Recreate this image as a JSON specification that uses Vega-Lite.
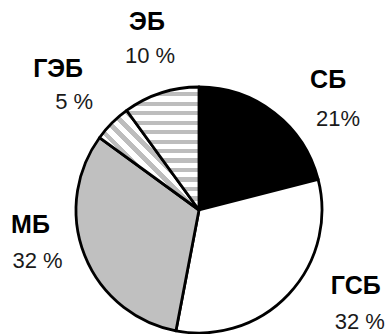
{
  "$schema": "https://vega.github.io/schema/vega-lite/v6.json",
  "width": 248,
  "height": 246,
  "autosize": {"type": "none"},
  "padding": {"left": 75, "top": 87, "right": 63, "bottom": 1},
  "background": "white",
  "config": {"view": {"stroke": null}, "font": "Liberation Sans"},
  "data": {
    "values": [
      {"i": 1, "k": "СБ", "v": 21, "lab": "21%"},
      {"i": 2, "k": "ГСБ", "v": 32, "lab": "32 %"},
      {"i": 3, "k": "МБ", "v": 32, "lab": "32 %"},
      {"i": 4, "k": "ГЭБ", "v": 5, "lab": "5 %"},
      {"i": 5, "k": "ЭБ", "v": 10, "lab": "10 %"}
    ]
  },
  "encoding": {
    "theta": {"field": "v", "type": "quantitative", "stack": true},
    "order": {"field": "i", "type": "quantitative"}
  },
  "layer": [
    {
      "mark": {"type": "arc", "stroke": "black", "strokeWidth": 2.8, "strokeJoin": "round"},
      "encoding": {
        "fill": {
          "condition": [
            {"test": "datum.k === 'ЭБ'", "value": {"gradient": "linear", "x1": 0, "y1": 0, "x2": 0, "y2": 1, "stops": [
              {"offset": 0, "color": "white"}, {"offset": 0.0427, "color": "white"}, {"offset": 0.0427, "color": "#bdbdbd"}, {"offset": 0.0769, "color": "#bdbdbd"},
              {"offset": 0.0769, "color": "white"}, {"offset": 0.1196, "color": "white"}, {"offset": 0.1196, "color": "#bdbdbd"}, {"offset": 0.1538, "color": "#bdbdbd"},
              {"offset": 0.1538, "color": "white"}, {"offset": 0.1966, "color": "white"}, {"offset": 0.1966, "color": "#bdbdbd"}, {"offset": 0.2308, "color": "#bdbdbd"},
              {"offset": 0.2308, "color": "white"}, {"offset": 0.2735, "color": "white"}, {"offset": 0.2735, "color": "#bdbdbd"}, {"offset": 0.3077, "color": "#bdbdbd"},
              {"offset": 0.3077, "color": "white"}, {"offset": 0.3504, "color": "white"}, {"offset": 0.3504, "color": "#bdbdbd"}, {"offset": 0.3846, "color": "#bdbdbd"},
              {"offset": 0.3846, "color": "white"}, {"offset": 0.4273, "color": "white"}, {"offset": 0.4273, "color": "#bdbdbd"}, {"offset": 0.4615, "color": "#bdbdbd"},
              {"offset": 0.4615, "color": "white"}, {"offset": 0.5043, "color": "white"}, {"offset": 0.5043, "color": "#bdbdbd"}, {"offset": 0.5385, "color": "#bdbdbd"},
              {"offset": 0.5385, "color": "white"}, {"offset": 0.5812, "color": "white"}, {"offset": 0.5812, "color": "#bdbdbd"}, {"offset": 0.6154, "color": "#bdbdbd"},
              {"offset": 0.6154, "color": "white"}, {"offset": 0.6581, "color": "white"}, {"offset": 0.6581, "color": "#bdbdbd"}, {"offset": 0.6923, "color": "#bdbdbd"},
              {"offset": 0.6923, "color": "white"}, {"offset": 0.7350, "color": "white"}, {"offset": 0.7350, "color": "#bdbdbd"}, {"offset": 0.7692, "color": "#bdbdbd"},
              {"offset": 0.7692, "color": "white"}, {"offset": 0.8119, "color": "white"}, {"offset": 0.8119, "color": "#bdbdbd"}, {"offset": 0.8462, "color": "#bdbdbd"},
              {"offset": 0.8462, "color": "white"}, {"offset": 0.8889, "color": "white"}, {"offset": 0.8889, "color": "#bdbdbd"}, {"offset": 0.9231, "color": "#bdbdbd"},
              {"offset": 0.9231, "color": "white"}, {"offset": 0.9658, "color": "white"}, {"offset": 0.9658, "color": "#bdbdbd"}, {"offset": 1, "color": "#bdbdbd"}
            ]}},
            {"test": "datum.k === 'ГЭБ'", "value": {"gradient": "linear", "x1": 0, "y1": 1, "x2": 1, "y2": 0, "stops": [
              {"offset": 0, "color": "white"}, {"offset": 0.0393, "color": "white"}, {"offset": 0.0393, "color": "#bdbdbd"}, {"offset": 0.0714, "color": "#bdbdbd"},
              {"offset": 0.0714, "color": "white"}, {"offset": 0.1107, "color": "white"}, {"offset": 0.1107, "color": "#bdbdbd"}, {"offset": 0.1429, "color": "#bdbdbd"},
              {"offset": 0.1429, "color": "white"}, {"offset": 0.1822, "color": "white"}, {"offset": 0.1822, "color": "#bdbdbd"}, {"offset": 0.2143, "color": "#bdbdbd"},
              {"offset": 0.2143, "color": "white"}, {"offset": 0.2536, "color": "white"}, {"offset": 0.2536, "color": "#bdbdbd"}, {"offset": 0.2857, "color": "#bdbdbd"},
              {"offset": 0.2857, "color": "white"}, {"offset": 0.3250, "color": "white"}, {"offset": 0.3250, "color": "#bdbdbd"}, {"offset": 0.3571, "color": "#bdbdbd"},
              {"offset": 0.3571, "color": "white"}, {"offset": 0.3964, "color": "white"}, {"offset": 0.3964, "color": "#bdbdbd"}, {"offset": 0.4286, "color": "#bdbdbd"},
              {"offset": 0.4286, "color": "white"}, {"offset": 0.4679, "color": "white"}, {"offset": 0.4679, "color": "#bdbdbd"}, {"offset": 0.5, "color": "#bdbdbd"},
              {"offset": 0.5, "color": "white"}, {"offset": 0.5393, "color": "white"}, {"offset": 0.5393, "color": "#bdbdbd"}, {"offset": 0.5714, "color": "#bdbdbd"},
              {"offset": 0.5714, "color": "white"}, {"offset": 0.6107, "color": "white"}, {"offset": 0.6107, "color": "#bdbdbd"}, {"offset": 0.6429, "color": "#bdbdbd"},
              {"offset": 0.6429, "color": "white"}, {"offset": 0.6822, "color": "white"}, {"offset": 0.6822, "color": "#bdbdbd"}, {"offset": 0.7143, "color": "#bdbdbd"},
              {"offset": 0.7143, "color": "white"}, {"offset": 0.7536, "color": "white"}, {"offset": 0.7536, "color": "#bdbdbd"}, {"offset": 0.7857, "color": "#bdbdbd"},
              {"offset": 0.7857, "color": "white"}, {"offset": 0.8250, "color": "white"}, {"offset": 0.8250, "color": "#bdbdbd"}, {"offset": 0.8571, "color": "#bdbdbd"},
              {"offset": 0.8571, "color": "white"}, {"offset": 0.8964, "color": "white"}, {"offset": 0.8964, "color": "#bdbdbd"}, {"offset": 0.9286, "color": "#bdbdbd"},
              {"offset": 0.9286, "color": "white"}, {"offset": 0.9679, "color": "white"}, {"offset": 0.9679, "color": "#bdbdbd"}, {"offset": 1, "color": "#bdbdbd"}
            ]}}
          ],
          "field": "k",
          "type": "nominal",
          "scale": {"domain": ["СБ", "ГСБ", "МБ", "ГЭБ", "ЭБ"], "range": ["#000000", "#ffffff", "#c0c0c0", "#ffffff", "#ffffff"]},
          "legend": null
        }
      }
    },
    {
      "mark": {"type": "text", "radius": 178, "dx": 20, "dy": 11, "fontSize": 25, "fontWeight": "bold", "color": "#000000"},
      "encoding": {"detail": {"field": "k"}, "text": {"condition": {"test": "datum.k === 'СБ'", "field": "k"}, "value": ""}}
    },
    {
      "mark": {"type": "text", "radius": 178, "dx": 30, "dy": 50, "fontSize": 22, "color": "#1a1a1a"},
      "encoding": {"detail": {"field": "k"}, "text": {"condition": {"test": "datum.k === 'СБ'", "field": "lab"}, "value": ""}}
    },
    {
      "mark": {"type": "text", "radius": 178, "dx": 27, "dy": -46, "fontSize": 25, "fontWeight": "bold", "color": "#000000"},
      "encoding": {"detail": {"field": "k"}, "text": {"condition": {"test": "datum.k === 'ГСБ'", "field": "k"}, "value": ""}}
    },
    {
      "mark": {"type": "text", "radius": 178, "dx": 31, "dy": -10, "fontSize": 22, "color": "#1a1a1a"},
      "encoding": {"detail": {"field": "k"}, "text": {"condition": {"test": "datum.k === 'ГСБ'", "field": "lab"}, "value": ""}}
    },
    {
      "mark": {"type": "text", "radius": 178, "dx": -3, "dy": -51, "fontSize": 25, "fontWeight": "bold", "color": "#000000"},
      "encoding": {"detail": {"field": "k"}, "text": {"condition": {"test": "datum.k === 'МБ'", "field": "k"}, "value": ""}}
    },
    {
      "mark": {"type": "text", "radius": 178, "dx": 4, "dy": -15, "fontSize": 22, "color": "#1a1a1a"},
      "encoding": {"detail": {"field": "k"}, "text": {"condition": {"test": "datum.k === 'МБ'", "field": "lab"}, "value": ""}}
    },
    {
      "mark": {"type": "text", "radius": 178, "dx": -15, "dy": -15, "fontSize": 25, "fontWeight": "bold", "color": "#000000"},
      "encoding": {"detail": {"field": "k"}, "text": {"condition": {"test": "datum.k === 'ГЭБ'", "field": "k"}, "value": ""}}
    },
    {
      "mark": {"type": "text", "radius": 178, "dx": 1, "dy": 18, "fontSize": 22, "color": "#1a1a1a"},
      "encoding": {"detail": {"field": "k"}, "text": {"condition": {"test": "datum.k === 'ГЭБ'", "field": "lab"}, "value": ""}}
    },
    {
      "mark": {"type": "text", "radius": 178, "dx": 3, "dy": -19, "fontSize": 25, "fontWeight": "bold", "color": "#000000"},
      "encoding": {"detail": {"field": "k"}, "text": {"condition": {"test": "datum.k === 'ЭБ'", "field": "k"}, "value": ""}}
    },
    {
      "mark": {"type": "text", "radius": 178, "dx": 6, "dy": 15, "fontSize": 22, "color": "#1a1a1a"},
      "encoding": {"detail": {"field": "k"}, "text": {"condition": {"test": "datum.k === 'ЭБ'", "field": "lab"}, "value": ""}}
    }
  ]
}
